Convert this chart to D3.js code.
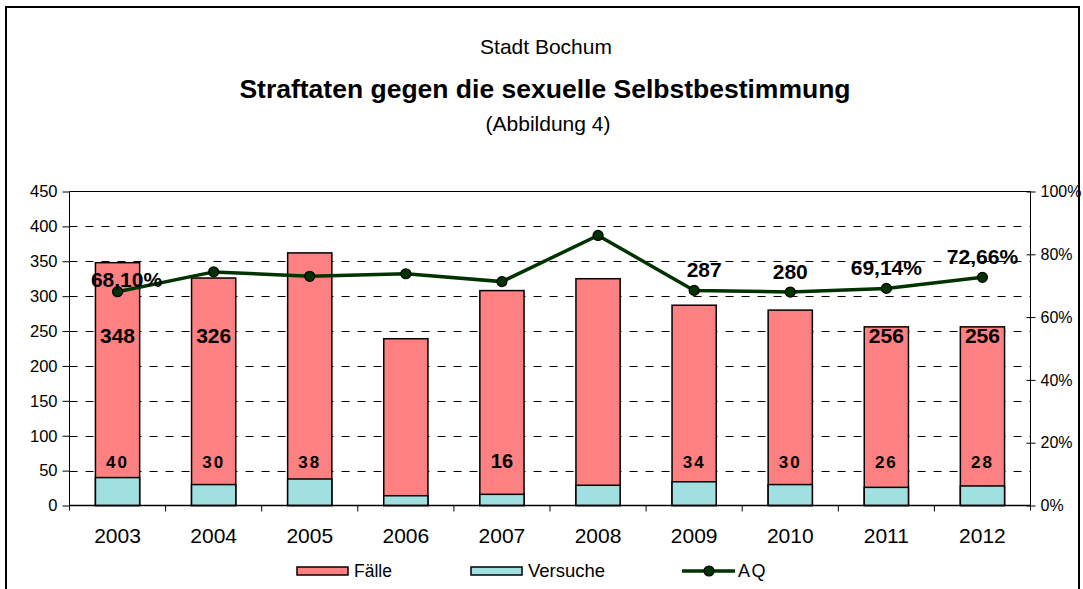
<!DOCTYPE html>
<html><head><meta charset="utf-8">
<script src="https://cdn.jsdelivr.net/npm/d3@7"></script>
<style>body{margin:0;background:#fff}svg{display:block}text{font-family:"Liberation Sans",Arial,sans-serif}</style>
</head><body>
<svg id="c" width="1083" height="589"></svg>
<script>
const years = ["2003","2004","2005","2006","2007","2008","2009","2010","2011","2012"];
const faelle = [348,326,362,239,308,325,287,280,256,256];
const versuche = [40,30,38,14,16,29,34,30,26,28];
const aq = [68.10,74.4,73.0,73.8,71.3,86.0,68.5,67.97,69.14,72.66];
const faelleLabels = ["348","326","","","","","","","256","256"];
const versucheLabels = ["40","30","38","","16","","34","30","26","28"];
const aqLabels = ["68,10%","","","","","","287","280","69,14%","72,66%"];
const leftTicks = [0,50,100,150,200,250,300,350,400,450];
const rightTicks = [0,20,40,60,80,100];
const titleLines = ["Stadt Bochum","Straftaten gegen die sexuelle Selbstbestimmung","(Abbildung 4)"];
const legendNames = ["Fälle","Versuche","AQ"];

const svg = d3.select("#c");
const L=69.5, R=1030.5, T=191.5, B=505.5;
const x = d3.scaleBand().domain(years).range([L,R]).paddingInner(0.54).paddingOuter(0.27);
const y = d3.scaleLinear().domain([0,450]).range([B,T]);
const y2 = d3.scaleLinear().domain([0,100]).range([B,T]);

// outer border
svg.append("rect").attr("x",6).attr("y",7).attr("width",1073).attr("height",620)
  .attr("fill","none").attr("stroke","#000").attr("stroke-width",2);

// titles
svg.append("text").attr("x",546).attr("y",54).attr("text-anchor","middle").attr("font-size",21).text(titleLines[0]);
svg.append("text").attr("x",545).attr("y",98).attr("text-anchor","middle").attr("font-size",26.5).attr("font-weight","bold").text(titleLines[1]);
svg.append("text").attr("x",548).attr("y",131).attr("text-anchor","middle").attr("font-size",21).text(titleLines[2]);

// gridlines
svg.append("g").selectAll("line").data(leftTicks.filter(d=>d>0&&d<450)).join("line")
  .attr("x1",L).attr("x2",R).attr("y1",d=>Math.round(y(d))+0.5).attr("y2",d=>Math.round(y(d))+0.5)
  .attr("stroke","#000").attr("stroke-width",1).attr("stroke-dasharray","8,8");
svg.append("line").attr("x1",L).attr("x2",R).attr("y1",T).attr("y2",T).attr("stroke","#000");

// bars
const bars = svg.append("g");
bars.selectAll("rect.f").data(years).join("rect").attr("class","f")
  .attr("x",d=>x(d)).attr("width",x.bandwidth())
  .attr("y",(d,i)=>y(faelle[i])).attr("height",(d,i)=>B-y(faelle[i]))
  .attr("fill","#FF8080").attr("stroke","#000").attr("stroke-width",1.5);
bars.selectAll("rect.v").data(years).join("rect").attr("class","v")
  .attr("x",d=>x(d)).attr("width",x.bandwidth())
  .attr("y",(d,i)=>y(versuche[i])).attr("height",(d,i)=>B-y(versuche[i]))
  .attr("fill","#A0E0E0").attr("stroke","#000").attr("stroke-width",1.5);

// axes
const ax = svg.append("g").attr("transform",`translate(${L},0)`)
  .call(d3.axisLeft(y).tickValues(leftTicks).tickSize(7).tickPadding(5));
ax.select(".domain").remove();
ax.selectAll("text").attr("font-size",16.5).attr("fill","#000");
svg.append("line").attr("x1",L).attr("x2",L).attr("y1",T).attr("y2",B+5).attr("stroke","#000");

const ax2 = svg.append("g").attr("transform",`translate(${R},0)`)
  .call(d3.axisRight(y2).tickValues(rightTicks).tickSize(5).tickPadding(5).tickFormat(d=>d+"%"));
ax2.select(".domain").remove();
ax2.selectAll(".tick line").attr("x1",-4);
ax2.selectAll("text").attr("font-size",16).attr("fill","#000");
svg.append("line").attr("x1",R).attr("x2",R).attr("y1",T).attr("y2",B+5).attr("stroke","#000");

// x axis
svg.append("line").attr("x1",L).attr("x2",R).attr("y1",B).attr("y2",B).attr("stroke","#000").attr("stroke-width",1.5);
svg.append("g").selectAll("line").data(years.slice(1)).join("line")
  .attr("x1",d=>x(d)-x.step()*x.paddingInner()/2).attr("x2",d=>x(d)-x.step()*x.paddingInner()/2)
  .attr("y1",B).attr("y2",B+6).attr("stroke","#000");
svg.append("g").selectAll("text").data(years).join("text")
  .attr("x",d=>x(d)+x.bandwidth()/2).attr("y",543).attr("text-anchor","middle")
  .attr("font-size",21).text(d=>d);

// line
const cx = d=>x(d)+x.bandwidth()/2;
const line = d3.line().x((d,i)=>cx(years[i])).y(d=>y2(d));
svg.append("path").datum(aq).attr("d",line).attr("fill","none").attr("stroke","#003300").attr("stroke-width",3.5);
svg.append("g").selectAll("circle").data(aq).join("circle")
  .attr("cx",(d,i)=>cx(years[i])).attr("cy",d=>y2(d)).attr("r",5)
  .attr("fill","#003300").attr("stroke","#000").attr("stroke-width",1.2);

// labels
const lab = svg.append("g").attr("font-weight","bold").attr("text-anchor","middle").attr("fill","#000");
lab.selectAll("text.fl").data(years).join("text").attr("class","fl")
  .attr("x",d=>cx(d)).attr("y",y(244)+8).attr("font-size",21).text((d,i)=>faelleLabels[i]);
lab.selectAll("text.vl").data(years).join("text").attr("class","vl")
  .attr("x",d=>cx(d)).attr("y",y(62)+6).attr("font-size",17).attr("letter-spacing",(d,i)=>versucheLabels[i]==="16"?0:2)
  .attr("font-size",(d,i)=>versucheLabels[i]==="16"?20:17).text((d,i)=>versucheLabels[i]);
lab.selectAll("text.al").data(years).join("text").attr("class","al")
  .attr("x",(d,i)=>cx(d)+(i===0?9:(i===6?10:0))).attr("y",(d,i)=>y2(aq[i])-(i===0?13:21)+8)
  .attr("font-size",21).text((d,i)=>aqLabels[i]);

// legend
const lg = svg.append("g");
const ly = 571;
lg.append("rect").attr("x",297).attr("y",ly-4).attr("width",51).attr("height",8).attr("fill","#FF8080").attr("stroke","#000").attr("stroke-width",1.5);
lg.append("text").attr("x",354).attr("y",ly+6).attr("font-size",17.5).text(legendNames[0]);
lg.append("rect").attr("x",471).attr("y",ly-4).attr("width",51).attr("height",8).attr("fill","#A0E0E0").attr("stroke","#000").attr("stroke-width",1.5);
lg.append("text").attr("x",528).attr("y",ly+6).attr("font-size",18.5).text(legendNames[1]);
lg.append("line").attr("x1",682).attr("x2",735).attr("y1",ly).attr("y2",ly).attr("stroke","#003300").attr("stroke-width",3.5);
lg.append("circle").attr("cx",709).attr("cy",ly).attr("r",5).attr("fill","#003300").attr("stroke","#000").attr("stroke-width",1.2);
lg.append("text").attr("x",738).attr("y",ly+6).attr("font-size",18).attr("letter-spacing",1.5).text(legendNames[2]);
</script>
</body></html>
